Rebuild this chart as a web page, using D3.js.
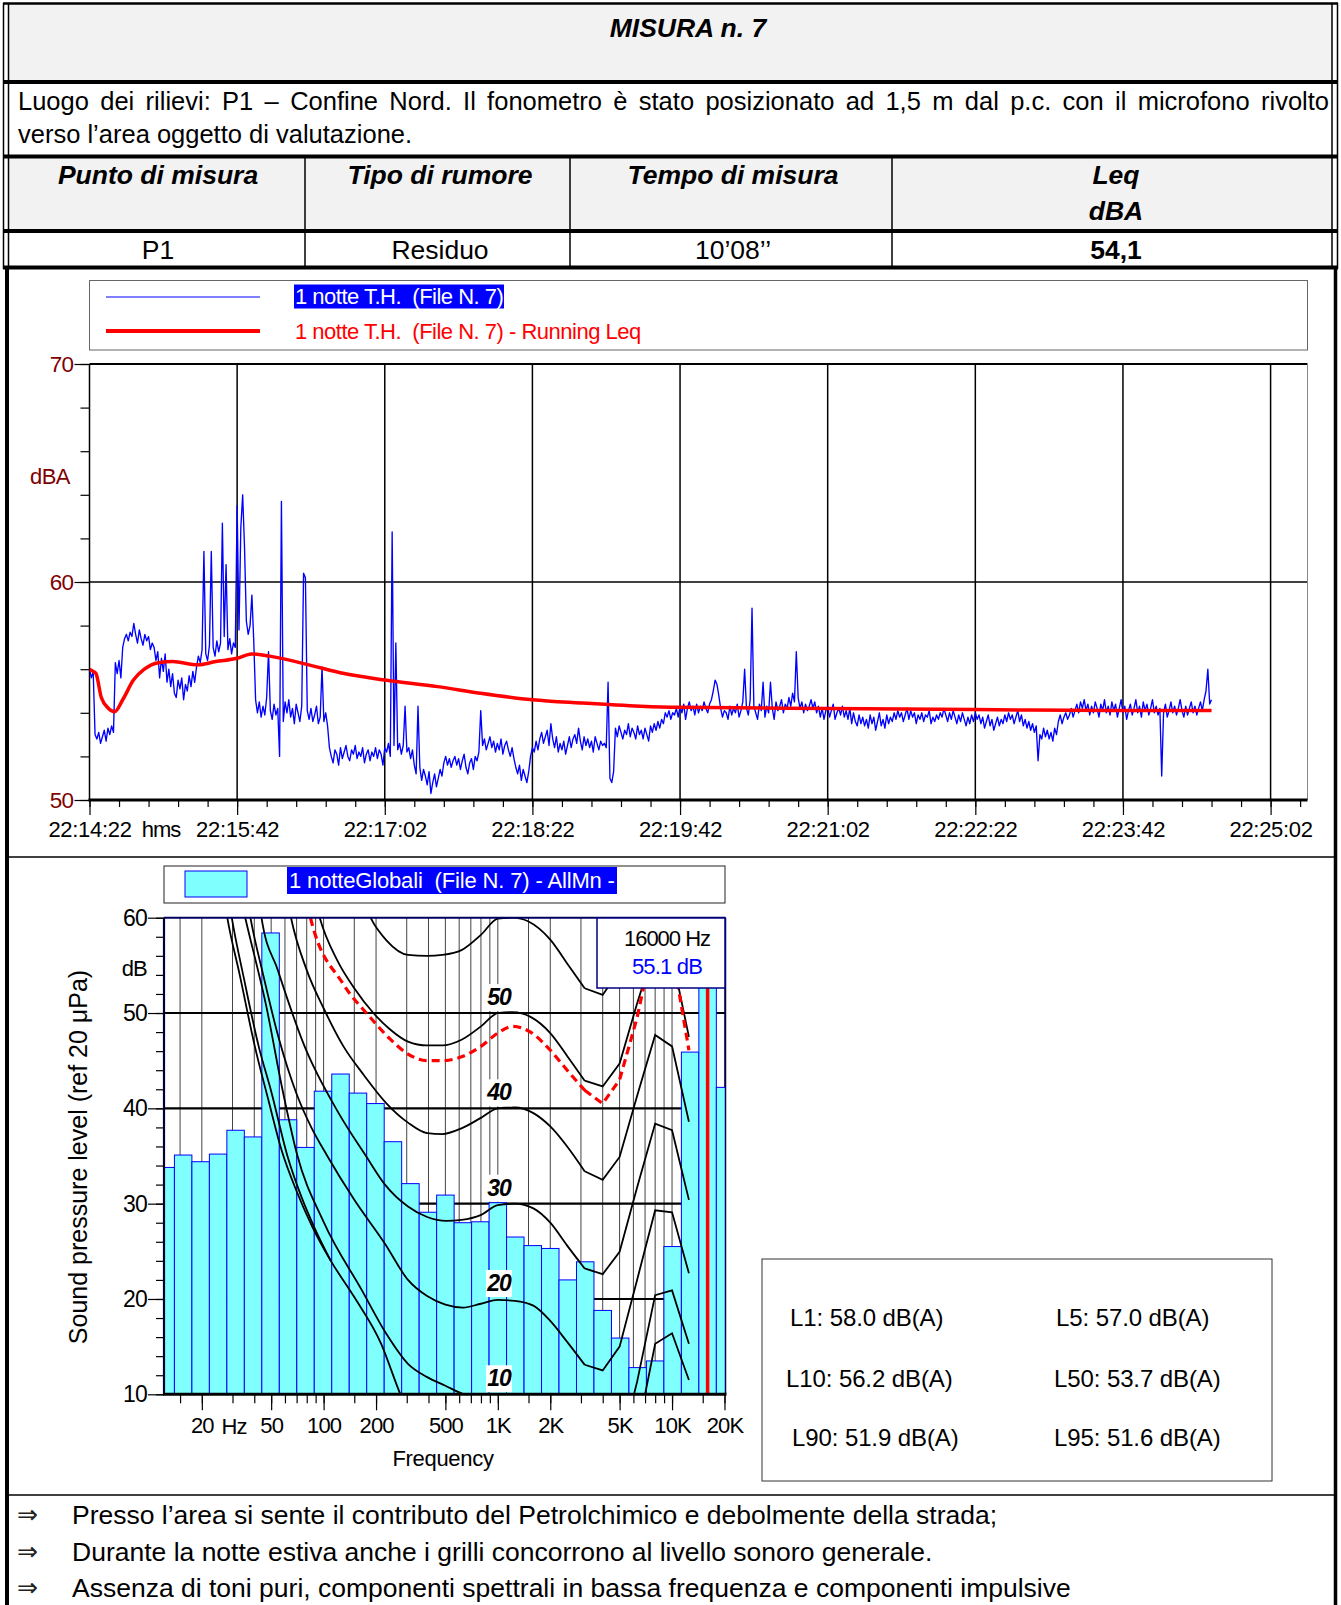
<!DOCTYPE html>
<html>
<head>
<meta charset="utf-8">
<script src="https://cdn.jsdelivr.net/npm/d3@7"></script>
<style>
  body { margin: 0; background: #fff; }
  svg text { font-family: 'Liberation Sans', Arial, sans-serif; white-space: pre; }
</style>
</head>
<body>
<svg id="sheet" width="1341" height="1605"></svg>
<script>
// ---------- report table ----------
const reportTitle = "MISURA n. 7";
const siteLines = [
  "Luogo dei rilievi: P1 \u2013 Confine Nord. Il fonometro \u00e8 stato posizionato ad 1,5 m dal p.c. con il microfono rivolto",
  "verso l\u2019area oggetto di valutazione."
];
const tableHeaders = ["Punto di misura", "Tipo di rumore", "Tempo di misura", "Leq"];
const tableUnit = "dBA";
const tableRow = ["P1", "Residuo", "10\u201908\u2019\u2019", "54,1"];

// ---------- time history (1 s samples from 22:14:22) ----------
const timeTickLabels = ["22:14:22", "22:15:42", "22:17:02", "22:18:22", "22:19:42", "22:21:02", "22:22:22", "22:23:42", "22:25:02"];
const levelSeries = [
  56.0, 55.6, 55.9, 53.0, 52.8, 53.1, 52.6, 52.9, 53.2, 52.7,
  53.3, 53.0, 53.4, 53.1, 56.3, 55.8, 56.4, 55.6, 57.0, 57.4,
  57.6, 57.3, 57.7, 57.5, 58.1, 57.6, 57.2, 57.8, 57.4, 57.1,
  57.6, 57.3, 57.5, 56.9, 57.2, 57.0, 56.4, 56.8, 55.6, 56.5,
  55.9, 56.7, 55.4, 56.0, 55.2, 55.8, 54.9, 54.7, 55.5, 55.1,
  55.6, 54.6, 55.3, 55.0, 55.7, 55.2, 55.9, 55.4, 56.1, 56.6,
  56.3, 56.9, 61.4, 56.7, 56.4, 57.1, 61.4, 57.0, 56.6, 57.3,
  56.8, 57.2, 62.7, 57.5, 60.8, 56.9, 57.4, 56.7, 57.2, 57.0,
  63.5, 57.8, 62.5, 64.0, 61.6, 58.2, 57.6, 58.0, 59.4, 57.3,
  54.6, 54.0, 54.5, 53.8, 54.3, 53.9, 54.7, 56.8, 54.1, 53.7,
  54.4, 53.9, 54.2, 52.0, 63.7, 53.6, 54.5, 54.0, 54.6, 53.8,
  54.2, 53.5, 54.4, 54.0, 53.6, 54.3, 60.4, 60.2, 54.1, 53.7,
  54.2, 53.6, 53.9, 54.3, 53.5, 53.8, 56.1, 53.6, 54.0, 53.4,
  52.4, 52.0, 51.7, 52.3, 52.1, 51.6, 52.4, 51.9, 52.2, 52.5,
  52.0, 51.8, 52.3, 52.1, 52.5, 51.9, 52.2, 52.0, 52.4, 51.7,
  52.1, 52.3, 51.8, 52.2, 52.0, 52.4, 51.9, 52.3, 52.1, 51.6,
  52.4, 52.2, 52.6, 52.0, 62.3, 52.5, 57.2, 52.3, 52.6, 52.1,
  52.5, 54.3, 52.2, 52.4, 51.9, 52.3, 51.6, 51.2, 54.3, 51.5,
  50.9, 51.4, 51.1, 50.7, 51.3, 50.3, 50.8, 51.2, 50.6, 51.0,
  51.4, 51.1, 51.7, 52.0, 51.6, 51.9, 51.5, 51.8, 52.0, 51.6,
  51.9, 51.4, 51.8, 52.1, 51.5, 51.2, 51.7, 51.9, 51.4, 52.0,
  51.8, 52.2, 54.1, 52.5, 52.8, 52.3, 52.6, 52.9, 52.4, 52.7,
  52.2, 52.6, 52.3, 52.8, 52.1, 52.5, 52.7, 52.3, 52.0, 52.4,
  51.9, 51.5, 51.2, 51.6, 50.9, 51.4, 51.1, 50.8, 51.3, 52.0,
  52.4, 52.2, 52.7, 52.3, 52.8, 53.1, 52.6, 52.9, 53.2, 52.5,
  53.5, 52.8, 52.4, 52.9, 52.2, 52.6, 52.3, 52.7, 52.1, 52.5,
  52.9, 52.4, 52.8, 53.0, 52.6, 53.3, 52.7, 52.3, 52.9, 52.5,
  52.8, 52.4, 52.7, 52.2, 52.9, 52.6, 52.3, 52.7, 52.5, 52.6,
  52.4, 55.4, 51.0, 50.8, 51.3, 53.3, 52.9, 53.4, 53.1, 52.8,
  53.2, 53.0, 53.5, 52.9, 53.3, 53.1, 52.8, 53.4, 53.0, 53.2,
  52.8, 53.3, 53.0, 52.7, 53.4, 53.1, 53.5, 53.2, 53.6, 53.3,
  53.7, 53.5, 54.0, 53.8, 54.1, 53.7, 54.0, 53.9, 54.2, 53.8,
  54.3, 54.0, 54.4, 53.7, 54.2, 54.5, 54.1, 54.3, 53.9, 54.4,
  54.0, 54.3, 54.1, 54.5, 54.2, 54.0, 54.4, 54.6, 55.0, 55.5,
  55.3, 54.8, 54.2, 53.8, 54.1, 54.0, 53.7, 54.3, 53.9, 54.2,
  54.0, 54.4, 53.8, 54.1, 54.5, 56.0, 54.2, 53.9, 54.6, 58.8,
  54.3, 54.0, 53.7, 54.4, 54.1, 55.4, 53.8, 54.3, 54.0, 55.4,
  54.2, 53.7, 54.5, 54.1, 54.3, 54.6, 54.0, 54.4, 54.2, 54.7,
  54.3, 54.9, 54.5, 56.8, 54.7, 54.2, 54.5, 54.0, 54.4, 54.1,
  54.3, 54.6, 54.2, 54.5, 54.0, 54.3, 53.8, 54.2, 53.7, 54.1,
  54.3, 53.8, 54.1, 54.4, 53.7, 54.0, 54.2, 53.9, 54.3, 53.8,
  54.1, 53.7, 54.2, 53.5, 54.0, 53.6, 53.4, 53.9, 53.5, 53.8,
  53.4, 53.7, 53.3, 53.9, 53.5, 53.8, 53.2, 53.6, 54.0, 53.4,
  53.7, 53.3, 53.9, 53.5, 53.8, 53.6, 54.0, 53.7, 54.1, 53.8,
  54.0, 53.6, 53.9, 54.2, 53.7, 54.1, 53.8, 54.0, 53.5, 53.9,
  53.7, 54.0, 53.6, 53.9, 53.8, 54.1, 53.5, 53.8, 53.6, 53.9,
  53.7, 54.0, 53.8, 54.2, 53.9, 53.6, 54.0, 53.7, 54.1, 53.8,
  53.5, 53.9, 53.6, 54.0, 53.7, 53.4, 53.8, 53.5, 53.9, 53.6,
  54.0, 53.7, 53.9, 53.5, 53.8, 53.3, 53.6, 53.9, 53.4, 53.7,
  53.2, 53.5, 53.8, 53.4, 53.7, 53.5, 53.9, 53.6, 54.0, 53.7,
  53.9, 53.5, 53.8, 54.1, 53.6, 53.9, 53.4, 53.7, 53.3, 53.6,
  53.2, 53.5, 53.1, 53.4, 51.8, 53.0, 52.8, 53.3, 52.9, 53.2,
  52.8, 53.1, 52.7, 53.3, 53.0, 53.6, 53.9, 53.5, 53.8, 54.0,
  53.7, 53.9, 54.2, 53.8, 54.1, 54.4, 54.0, 54.5, 54.2, 54.6,
  54.1, 54.4, 53.9, 54.3, 54.0, 54.5, 54.2, 53.8, 54.4, 54.1,
  54.6, 54.0, 54.3, 53.9, 54.5, 54.1, 54.4, 53.8, 54.2, 54.6,
  54.0, 54.3, 53.7, 54.1, 54.4, 53.9, 54.2, 54.6, 54.0, 54.3,
  53.8, 54.5, 54.1, 54.4, 53.9, 54.2, 54.6, 54.0, 54.3, 53.9,
  54.2, 51.1, 54.0, 54.4, 53.8, 54.1, 54.5, 54.0, 54.3, 53.9,
  54.2, 54.6, 54.1, 53.8, 54.3, 53.9, 54.2, 54.5, 54.0, 54.3,
  53.9, 54.2, 54.5, 54.1, 54.6, 55.0, 56.0, 54.4, 54.6
];
// running Leq: [seconds from start, dB]
const runningLeq = [
  [0, 56.0], [2, 55.9], [3.5, 55.8], [6.4, 54.7], [10.3, 54.2], [13.6, 54.05], [18, 54.6],
  [23.8, 55.5], [29.7, 56.0], [37.4, 56.3], [45, 56.35], [58.7, 56.2], [68.4, 56.35], [80, 56.5],
  [87.8, 56.7], [97.5, 56.6], [118.8, 56.2], [138, 55.8], [160, 55.5], [188.6, 55.2], [211.8, 54.9],
  [240, 54.6], [266, 54.45], [298.6, 54.3], [320, 54.25], [400, 54.2], [480, 54.15], [560, 54.1], [608, 54.1]
];

// ---------- third-octave spectrum ----------
const bandLabels = ["12.5", "16", "20", "25", "31.5", "40", "50", "63", "80", "100", "125", "160", "200", "250", "315", "400", "500", "630", "800", "1000", "1250", "1600", "2000", "2500", "3150", "4000", "5000", "6300", "8000", "10000", "12500", "16000", "20000"];
const bandLevels = [33.8, 35.1, 34.4, 35.2, 37.7, 37.0, 58.4, 38.8, 35.9, 41.8, 43.6, 41.6, 40.5, 36.5, 32.1, 29.1, 30.9, 28.0, 28.1, 30.1, 26.5, 25.6, 25.3, 22.0, 23.9, 18.8, 15.9, 12.8, 13.5, 25.5, 45.9, 55.1, 42.2];
const freqTickValues = [15, 20, 30, 40, 50, 60, 70, 80, 90, 100, 150, 200, 300, 400, 500, 600, 700, 800, 900, 1000, 1500, 2000, 3000, 4000, 5000, 6000, 7000, 8000, 9000, 10000, 15000, 20000];
const freqLabelValues = [20, 50, 100, 200, 500, 1000, 2000, 5000, 10000, 20000];
const freqLabelText = ["20", "50", "100", "200", "500", "1K", "2K", "5K", "10K", "20K"];

// equal-loudness contours [Hz, dB]
const contourT1 = [[25, 66], [28, 60], [33, 54], [40.3, 46.5], [48, 41], [57.4, 35.6], [70, 31.3], [86, 27.6], [110, 24], [150, 20.2], [214, 15.3], [276, 10], [350, 6], [500, 2], [1000, 0]];
const contourT2 = [[26.5, 66], [29.7, 60], [35, 53.5], [42.4, 46.5], [50, 41.8], [62, 35.0], [75, 30.6], [88, 27.6], [110, 24]];
const contourT3 = [[4000, -5], [5000, -3], [6300, 5.8], [8000, 15.3], [10000, 16.4], [12500, 11.5]];
const contour10 = [[30, 66], [35.5, 60], [46.9, 50.7], [58, 42], [70.3, 35.2], [100, 28.1], [166, 20.9], [230, 16.3], [305, 13.2], [393, 11.8], [500, 10.9], [640, 10], [800, 9.6], [1000, 9.5], [1250, 9.0], [1600, 7.0], [2000, 5.0], [3150, 1.0], [4000, 0.5], [5000, 4.0], [6300, 11.3], [8000, 20.4], [10000, 20.9], [12500, 15.3]];
const contour20 = [[33, 67], [38, 60], [45, 54], [55, 47.5], [70, 41.5], [85, 38], [105, 35.0], [150, 30.4], [225, 25.8], [305, 22.0], [393, 20.3], [500, 19.4], [630, 19.1], [800, 19.5], [1000, 19.9], [1250, 19.8], [1600, 19.3], [2000, 17.7], [2500, 15.5], [3150, 13.1], [4000, 12.5], [5000, 15.0], [6300, 22.0], [8000, 29.3], [10000, 29.1], [12500, 22.7]];
const contour30 = [[38, 70], [44, 60], [54.6, 54.5], [77.8, 46.5], [122, 39.5], [175, 35.0], [225, 32.0], [305, 29.7], [393, 28.6], [506, 28.2], [619, 28.3], [797, 28.8], [1000, 29.85], [1250, 30.0], [1600, 29.5], [2000, 28.0], [2500, 25.6], [3150, 23.2], [4000, 22.6], [5000, 24.95], [6300, 31.7], [8000, 38.4], [10000, 37.7], [12500, 30.4]];
const contour40 = [[55, 68], [65, 60], [80, 54.5], [100, 50.5], [130, 46.5], [170, 43.5], [230, 40.5], [305, 38.5], [393, 37.4], [480, 37.3], [619, 37.9], [800, 39.0], [1000, 40.0], [1250, 40.1], [1600, 39.5], [2000, 38.1], [2500, 36.0], [3150, 33.4], [4000, 32.5], [5000, 34.9], [6300, 41.3], [8000, 47.7], [10000, 46.5], [12500, 38.6]];
const contour50 = [[80, 66], [95, 60], [120, 55.5], [150, 52.6], [193, 50.0], [240, 48.3], [305, 47.0], [393, 46.6], [480, 46.6], [619, 47.2], [800, 48.6], [1000, 50.0], [1220, 50.1], [1540, 49.6], [2000, 47.9], [2500, 45.5], [3150, 42.9], [4000, 42.3], [5000, 44.7], [6300, 51.0], [8000, 57.0], [10000, 56.0], [12500, 47.5]];
const contour60 = [[160, 63], [186, 60], [230, 57.6], [305, 56.1], [393, 56.0], [480, 56.1], [619, 56.6], [800, 58.2], [1000, 59.9], [1220, 60.0], [1500, 59.6], [2000, 57.7], [2500, 55.2], [3150, 52.6], [4000, 51.9], [5000, 54.5], [6300, 61], [8000, 66], [10000, 65], [12500, 56]];
const contourRef = [[70, 68], [84, 60], [129, 53.1], [184, 49.6], [240, 47.3], [305, 45.7], [393, 45.0], [480, 45.0], [619, 45.4], [800, 46.5], [1000, 47.9], [1220, 48.6], [1540, 48.0], [2000, 46.1], [2500, 44.0], [3150, 41.9], [4000, 40.5], [5000, 43.0], [6300, 49.5], [8000, 58.5], [10000, 56.5], [12500, 46.1]];
const contourLabels = ["50", "40", "30", "20", "10"];
const contourLabelLevels = [50, 40, 30, 20, 10];
const cursorFreq = 16000;
const cursorText = ["16000 Hz", "55.1 dB"];

// ---------- statistics and notes ----------
const statLabels = ["L1: 58.0 dB(A)", "L5: 57.0 dB(A)", "L10: 56.2 dB(A)", "L50: 53.7 dB(A)", "L90: 51.9 dB(A)", "L95: 51.6 dB(A)"];
const notes = [
  "Presso l\u2019area si sente il contributo del Petrolchimico e debolmente della strada;",
  "Durante la notte estiva anche i grilli concorrono al livello sonoro generale.",
  "Assenza di toni puri, componenti spettrali in bassa frequenza e componenti impulsive"
];

// ================= drawing =================
const svg = d3.select('#sheet');

function txt(g, x, y, s, o = {}) {
  const t = g.append('text').attr('x', x).attr('y', y).text(s)
    .attr('font-size', o.size || 22).attr('fill', o.fill || '#000')
    .attr('text-anchor', o.anchor || 'start');
  if (o.weight) t.attr('font-weight', o.weight);
  if (o.style) t.attr('font-style', o.style);
  if (o.ls != null) t.attr('letter-spacing', o.ls);
  return t;
}
function hline(g, x1, x2, y, w, c) {
  g.append('line').attr('x1', x1).attr('x2', x2).attr('y1', y).attr('y2', y)
    .attr('stroke', c || '#000').attr('stroke-width', w || 1);
}
function vline(g, x, y1, y2, w, c) {
  g.append('line').attr('x1', x).attr('x2', x).attr('y1', y1).attr('y2', y2)
    .attr('stroke', c || '#000').attr('stroke-width', w || 1);
}

// ---------- table ----------
const tbl = svg.append('g');
tbl.append('rect').attr('x', 8).attr('y', 4).attr('width', 1324).attr('height', 77).attr('fill', '#f2f2f2');
tbl.append('rect').attr('x', 8).attr('y', 158).attr('width', 1324).attr('height', 71).attr('fill', '#f2f2f2');
hline(tbl, 3, 1338, 3.5, 2.5);
hline(tbl, 3, 1338, 82, 4);
hline(tbl, 3, 1338, 156.5, 4);
hline(tbl, 3, 1338, 231, 4);
hline(tbl, 3, 1338, 267.5, 4);
vline(tbl, 3.5, 3, 269, 1.5);
vline(tbl, 8.5, 3, 269, 1.5);
vline(tbl, 1332, 3, 269, 1.5);
vline(tbl, 1337.5, 3, 269, 1.5);
[305, 570, 892].forEach(x => vline(tbl, x, 157, 268, 1.5));

txt(tbl, 688, 37, reportTitle, { size: 26.5, weight: 'bold', style: 'italic', anchor: 'middle' });
// first line is justified across the cell by widening the word gaps
const justified = txt(tbl, 18, 110, siteLines[0], { size: 25.5 });
const natural = justified.node().getComputedTextLength();
const gaps = siteLines[0].split(' ').length - 1;
justified.attr('word-spacing', Math.max(0, (1311 - natural) / gaps));
txt(tbl, 18, 143, siteLines[1], { size: 25.5 });
const colCenters = [158, 440, 733, 1116];
tableHeaders.forEach((h, i) => txt(tbl, colCenters[i], 184, h, { size: 26.5, weight: 'bold', style: 'italic', anchor: 'middle' }));
txt(tbl, colCenters[3], 220, tableUnit, { size: 26.5, weight: 'bold', style: 'italic', anchor: 'middle' });
tableRow.forEach((v, i) => txt(tbl, colCenters[i], 259, v, { size: 26.5, anchor: 'middle', weight: i === 3 ? 'bold' : null }));

// ---------- outer frame of the charts ----------
const frame = svg.append('g');
vline(frame, 7, 267, 1605, 4);
vline(frame, 1335.5, 267, 1605, 3.5);
hline(frame, 7, 1336, 857, 1.5);
hline(frame, 7, 1336, 1495, 1.5);

// ---------- time history chart ----------
const tc = svg.append('g');
const tx = d3.scaleLinear().domain([0, 660]).range([89.5, 1307.5]);
const ty = d3.scaleLinear().domain([50, 70]).range([800, 364]);

// legend
tc.append('rect').attr('x', 89.5).attr('y', 280.5).attr('width', 1218).attr('height', 69.5)
  .attr('fill', '#fff').attr('stroke', '#666').attr('stroke-width', 1);
hline(tc, 106, 260, 297, 1, '#0000ff');
tc.append('rect').attr('x', 294).attr('y', 284.5).attr('width', 210).attr('height', 24).attr('fill', '#0000ff');
txt(tc, 295, 304, "1 notte T.H.  (File N. 7)", { size: 22, fill: '#fff', ls: -0.5 });
hline(tc, 106, 260, 331, 4, '#ff0000');
txt(tc, 295, 339, "1 notte T.H.  (File N. 7) - Running Leq", { size: 22, fill: '#ff0000', ls: -0.5 });

// grid
d3.range(80, 641, 80).forEach(t => vline(tc, tx(t), ty(70), ty(50), 1.5));
hline(tc, tx(0), tx(660), ty(60), 1.5);
hline(tc, tx(0), tx(660), ty(70), 2);
vline(tc, tx(660), ty(70), ty(50), 1, '#888');

// y axis
const yMinor = d3.axisLeft(ty).tickValues(d3.range(50, 71, 2)).tickSize(9).tickFormat('');
const yMajor = d3.axisLeft(ty).tickValues([50, 60, 70]).tickSize(15).tickPadding(1);
tc.append('g').attr('transform', `translate(${tx(0)},0)`).call(yMinor)
  .call(g => g.select('.domain').remove()).selectAll('line').attr('stroke', '#000').attr('stroke-width', 1.2);
const yMaj = tc.append('g').attr('transform', `translate(${tx(0)},0)`).call(yMajor)
  .call(g => g.select('.domain').remove());
yMaj.selectAll('line').attr('stroke', '#000').attr('stroke-width', 1.2);
yMaj.selectAll('text').attr('font-size', 22.5).attr('fill', '#800000').attr('font-family', null).attr('letter-spacing', -0.6);
vline(tc, tx(0), ty(70), ty(50), 1.5);
txt(tc, 50, 484, "dBA", { size: 22, fill: '#800000', anchor: 'middle', ls: -0.5 });

// x axis
const xMinor = d3.axisBottom(tx).tickValues(d3.range(0, 657, 16)).tickSize(7).tickFormat('');
const xMajor = d3.axisBottom(tx).tickValues(d3.range(0, 641, 80)).tickSize(15).tickPadding(6)
  .tickFormat((d, i) => timeTickLabels[i]);
tc.append('g').attr('transform', `translate(0,${ty(50)})`).call(xMinor)
  .call(g => g.select('.domain').remove()).selectAll('line').attr('stroke', '#000').attr('stroke-width', 1.2);
const xMaj = tc.append('g').attr('transform', `translate(0,${ty(50)})`).call(xMajor)
  .call(g => g.select('.domain').remove());
xMaj.selectAll('line').attr('stroke', '#000').attr('stroke-width', 1.2);
xMaj.selectAll('text').attr('font-size', 22).attr('fill', '#000').attr('font-family', null).attr('letter-spacing', -0.3);
txt(tc, 161, 837, "hms", { size: 22, anchor: 'middle', ls: -1 });

// series
svg.append('clipPath').attr('id', 'tclip').append('rect')
  .attr('x', tx(0)).attr('y', ty(70)).attr('width', tx(660) - tx(0)).attr('height', ty(50) - ty(70));
const plotT = tc.append('g').attr('clip-path', 'url(#tclip)');
plotT.append('path').datum(levelSeries)
  .attr('d', d3.line().x((d, i) => tx(i)).y(d => ty(d)))
  .attr('fill', 'none').attr('stroke', '#0000ff').attr('stroke-width', 1.35).attr('stroke-linejoin', 'round');
plotT.append('path').datum(runningLeq)
  .attr('d', d3.line().x(d => tx(d[0])).y(d => ty(d[1])).curve(d3.curveMonotoneX))
  .attr('fill', 'none').attr('stroke', '#ff0000').attr('stroke-width', 3.5);
hline(tc, tx(0) - 1, tx(660), ty(50), 3);

// ---------- spectrum chart ----------
const sp = svg.append('g');
const fx = d3.scaleLog().domain([12.13, 20270]).range([164, 725.5]);
const fy = d3.scaleLinear().domain([10, 60]).range([1394.3, 917.7]);
const X0 = fx.range()[0], X1 = fx.range()[1], Y0 = fy(60), Y1 = fy(10);

// legend
sp.append('rect').attr('x', 164).attr('y', 866).attr('width', 561).attr('height', 37)
  .attr('fill', '#fff').attr('stroke', '#222').attr('stroke-width', 1);
sp.append('rect').attr('x', 185).attr('y', 871).attr('width', 62).attr('height', 26)
  .attr('fill', '#80ffff').attr('stroke', '#0000ff').attr('stroke-width', 1);
sp.append('rect').attr('x', 287).attr('y', 867).attr('width', 330).attr('height', 27).attr('fill', '#0000ff');
txt(sp, 289, 888, "1 notteGlobali  (File N. 7) - AllMn -", { size: 22, fill: '#fff', ls: -0.15 });

svg.append('clipPath').attr('id', 'sclip').append('rect')
  .attr('x', X0).attr('y', Y0).attr('width', X1 - X0).attr('height', Y1 - Y0);
const plotS = sp.append('g').attr('clip-path', 'url(#sclip)');

// grid
freqTickValues.forEach(f => vline(plotS, fx(f), Y0, Y1, 1, '#444'));
[20, 30, 40, 50].forEach(v => hline(plotS, X0, X1, fy(v), 2.2));

// bars
const bands = bandLabels.map((lab, i) => {
  const fc = 1000 * Math.pow(2, (i - 19) / 3);
  return { lab, lo: fc * Math.pow(2, -1 / 6), hi: fc * Math.pow(2, 1 / 6), v: bandLevels[i] };
});
plotS.selectAll('rect.bar').data(bands).enter().append('rect').attr('class', 'bar')
  .attr('x', d => fx(d.lo)).attr('width', d => fx(d.hi) - fx(d.lo))
  .attr('y', d => fy(d.v)).attr('height', d => fy(10) - fy(d.v) + 2)
  .attr('fill', '#80ffff').attr('stroke', '#0000ff').attr('stroke-width', 1);

// contours: smooth below 3150 Hz, straight segments above
function contourPath(pts) {
  const smooth = pts.filter(p => p[0] <= 3150);
  const straight = pts.filter(p => p[0] >= 3150);
  const ls = d3.line().x(d => fx(d[0])).y(d => fy(d[1]));
  let d = '';
  if (smooth.length > 1) d += ls.curve(d3.curveMonotoneX)(smooth);
  if (straight.length > 1) d += ls.curve(d3.curveLinear)(straight);
  return d;
}
[contourT1, contourT2, contourT3, contour10, contour20, contour30, contour40, contour50, contour60].forEach(c => {
  plotS.append('path').attr('d', contourPath(c)).attr('fill', 'none')
    .attr('stroke', '#000').attr('stroke-width', 1.8);
});
plotS.append('path').attr('d', contourPath(contourRef)).attr('fill', 'none')
  .attr('stroke', '#ff0000').attr('stroke-width', 3.2).attr('stroke-dasharray', '8,5');

// contour labels
contourLabels.forEach((lab, i) => {
  const y = fy(contourLabelLevels[i]);
  sp.append('rect').attr('x', 486).attr('y', y - 29).attr('width', 26).attr('height', 27).attr('fill', '#fff');
  txt(sp, 499, y - 8, lab, { size: 23, weight: 'bold', style: 'italic', anchor: 'middle', ls: -1 });
});

// cursor
vline(plotS, fx(cursorFreq), Y0, Y1, 3.5, '#ff0000');

// frame
vline(sp, X0, Y0, Y1, 2.2, '#000033');
hline(sp, X0, X1, Y0, 2, '#000060');
vline(sp, X1, Y0, Y1, 1.5, '#000060');

// axes
const fyMinor = d3.axisLeft(fy).tickValues(d3.range(10, 61, 2)).tickSize(8).tickFormat('');
const fyMajor = d3.axisLeft(fy).tickValues(d3.range(10, 61, 10)).tickSize(16).tickPadding(1);
sp.append('g').attr('transform', `translate(${X0},0)`).call(fyMinor)
  .call(g => g.select('.domain').remove()).selectAll('line').attr('stroke', '#000').attr('stroke-width', 1.2);
const fyM = sp.append('g').attr('transform', `translate(${X0},0)`).call(fyMajor)
  .call(g => g.select('.domain').remove());
fyM.selectAll('line').attr('stroke', '#000').attr('stroke-width', 1.2);
fyM.selectAll('text').attr('font-size', 23).attr('fill', '#000').attr('font-family', null).attr('letter-spacing', -0.8);
txt(sp, 147, 976, "dB", { size: 22, anchor: 'end', ls: -0.8 });

const fxMinor = d3.axisBottom(fx).tickValues(freqTickValues).tickSize(9).tickFormat('');
const fxMajor = d3.axisBottom(fx).tickValues(freqLabelValues).tickSize(16).tickPadding(7)
  .tickFormat((d, i) => freqLabelText[i]);
sp.append('g').attr('transform', `translate(0,${Y1})`).call(fxMinor)
  .call(g => g.select('.domain').remove()).selectAll('line').attr('stroke', '#000').attr('stroke-width', 1.2);
const fxM = sp.append('g').attr('transform', `translate(0,${Y1})`).call(fxMajor)
  .call(g => g.select('.domain').remove());
fxM.selectAll('line').attr('stroke', '#000').attr('stroke-width', 1.2);
fxM.selectAll('text').attr('font-size', 22).attr('fill', '#000').attr('font-family', null).attr('letter-spacing', -0.9);
txt(sp, 234, 1434, "Hz", { size: 22, anchor: 'middle', ls: -0.9 });
hline(sp, X0 - 1, X1 + 1, Y1, 3);
txt(sp, 443, 1466, "Frequency", { size: 22, anchor: 'middle', ls: -0.3 });
txt(sp, 0, 0, "Sound pressure level (ref 20 \u03bcPa)", { size: 25, anchor: 'middle' })
  .attr('transform', 'translate(87,1157) rotate(-90)');

// cursor read-out
sp.append('rect').attr('x', 597).attr('y', 918).attr('width', 128).attr('height', 70)
  .attr('fill', '#fff').attr('stroke', '#000080').attr('stroke-width', 1.5);
txt(sp, 667, 946, cursorText[0], { size: 22, anchor: 'middle', ls: -1 });
txt(sp, 667, 974, cursorText[1], { size: 22, anchor: 'middle', fill: '#0000ff', ls: -0.8 });

// ---------- statistics box ----------
const st = svg.append('g');
st.append('rect').attr('x', 762).attr('y', 1259).attr('width', 510).attr('height', 222)
  .attr('fill', '#fff').attr('stroke', '#333').attr('stroke-width', 1);
const statPos = [[790, 1326], [1056, 1326], [786, 1387], [1054, 1387], [792, 1446], [1054, 1446]];
statLabels.forEach((s, i) => txt(st, statPos[i][0], statPos[i][1], s, { size: 24, ls: -0.1 }));

// ---------- notes ----------
const nt = svg.append('g');
notes.forEach((s, i) => {
  const y = 1524 + i * 36.5;
  txt(nt, 17, y - 1, "\u21d2", { size: 25, fill: '#222' }).attr('font-family', "'DejaVu Sans', sans-serif").attr('font-weight', 200);
  txt(nt, 72, y, s, { size: 26.5 });
});
</script>
</body>
</html>
